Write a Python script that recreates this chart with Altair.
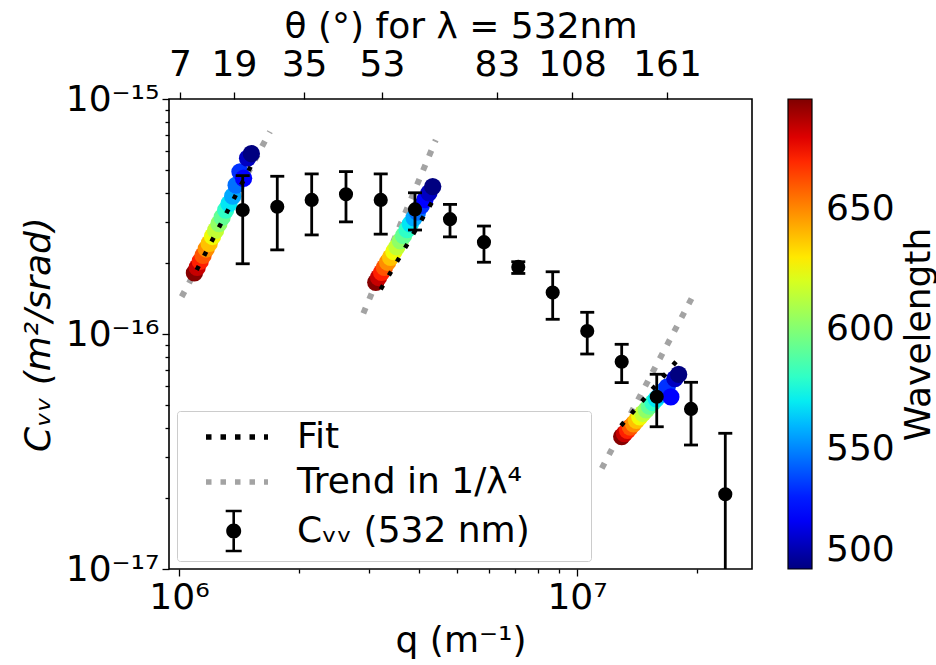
import math
import altair as alt
import pandas as pd

# ---------------- data ----------------
# black points (lambda = 532 nm) with error bars
q_532 = [1.446e6, 1.766e6, 2.155e6, 2.628e6, 3.213e6, 3.917e6, 4.797e6, 5.838e6,
         7.120e6, 8.688e6, 1.061e7, 1.295e7, 1.586e7, 1.934e7, 2.358e7]
c_532 = [3.37e-16, 3.48e-16, 3.72e-16, 3.93e-16, 3.72e-16, 3.39e-16, 3.08e-16, 2.46e-16,
         1.93e-16, 1.50e-16, 1.03e-16, 7.62e-17, 5.41e-17, 4.80e-17, 2.08e-17]
c_532_high = [4.72e-16, 4.69e-16, 4.80e-16, 4.91e-16, 4.80e-16, 3.99e-16, 3.56e-16, 2.88e-16,
              2.03e-16, 1.84e-16, 1.237e-16, 9.04e-17, 6.74e-17, 6.23e-17, 3.78e-17]
c_532_low = [1.99e-16, 2.28e-16, 2.64e-16, 3.00e-16, 2.66e-16, 2.77e-16, 2.59e-16, 2.02e-16,
             1.81e-16, 1.155e-16, 8.22e-17, 6.21e-17, 4.03e-17, 3.37e-17, 3.8e-18]

# wavelength sweeps (three angles)
wavelengths = [695, 684, 672, 661, 649, 638, 626, 615, 603, 592, 580, 569, 557, 546, 534, 523, 511, 500]
q_set1 = [1.0935e6, 1.1111e6, 1.1310e6, 1.1498e6, 1.1710e6, 1.1912e6, 1.2141e6, 1.2358e6, 1.2604e6,
          1.2838e6, 1.3103e6, 1.3357e6, 1.3645e6, 1.3919e6, 1.4232e6, 1.4532e6, 1.4873e6, 1.5200e6]
c_set1 = [1.82e-16, 1.92e-16, 2.04e-16, 2.16e-16, 2.30e-16, 2.43e-16, 2.60e-16, 2.76e-16, 2.95e-16,
          3.14e-16, 3.37e-16, 3.59e-16, 3.86e-16, 4.30e-16, 4.90e-16, 4.60e-16, 5.60e-16, 5.85e-16]
q_set2 = [3.1223e6, 3.1725e6, 3.2292e6, 3.2829e6, 3.3436e6, 3.4013e6, 3.4665e6, 3.5285e6, 3.5987e6,
          3.6655e6, 3.7414e6, 3.8137e6, 3.8959e6, 3.9744e6, 4.0637e6, 4.1491e6, 4.2466e6, 4.3400e6]
c_set2 = [1.66e-16, 1.74e-16, 1.83e-16, 1.92e-16, 2.02e-16, 2.12e-16, 2.24e-16, 2.35e-16, 2.49e-16,
          2.62e-16, 2.78e-16, 2.94e-16, 3.12e-16, 3.30e-16, 3.52e-16, 3.73e-16, 3.99e-16, 4.24e-16]
q_set3 = [1.2950e7, 1.3158e7, 1.3393e7, 1.3616e7, 1.3867e7, 1.4107e7, 1.4377e7, 1.4634e7, 1.4925e7,
          1.5203e7, 1.5517e7, 1.5817e7, 1.6158e7, 1.6484e7, 1.6854e7, 1.7208e7, 1.7613e7, 1.8000e7]
c_set3 = [3.66e-17, 3.77e-17, 3.89e-17, 4.02e-17, 4.15e-17, 4.29e-17, 4.44e-17, 4.59e-17, 4.76e-17,
          4.93e-17, 5.11e-17, 5.30e-17, 5.51e-17, 5.72e-17, 5.96e-17, 5.40e-17, 6.46e-17, 6.73e-17]

# fit lines (black dotted) and 1/lambda^4 trends (grey dotted): endpoints per set
fit_set = [1, 1, 2, 2, 3, 3]
fit_q = [1.108e6, 1.537e6, 3.213e6, 4.355e6, 1.290e7, 1.773e7]
fit_c = [1.873e-16, 5.41e-16, 1.55e-16, 3.72e-16, 4.07e-17, 7.62e-17]
trend_set = [1, 1, 2, 2, 3, 3]
trend_q = [1.0157e6, 1.693e6, 2.905e6, 4.416e6, 1.154e7, 1.942e7]
trend_c = [1.44e-16, 7.26e-16, 1.224e-16, 6.69e-16, 2.68e-17, 1.42e-16]

# axes
x_major = [1e6, 1e7]
x_minor = [2e6, 3e6, 4e6, 5e6, 6e6, 7e6, 8e6, 9e6, 2e7]
y_major = [1e-17, 1e-16, 1e-15]
y_minor = [2e-17, 3e-17, 4e-17, 5e-17, 6e-17, 7e-17, 8e-17, 9e-17,
           2e-16, 3e-16, 4e-16, 5e-16, 6e-16, 7e-16, 8e-16, 9e-16]
theta_q = [1.006e6, 1.375e6, 2.062e6, 3.236e6, 6.295e6, 9.716e6, 1.683e7]
theta_labels = ["7", "19", "35", "53", "83", "108", "161"]
colorbar_ticks = [500, 550, 600, 650]
legend_labels = ["Fit", "Trend in 1/λ⁴", "Cᵥᵥ (532 nm)"]

# ---------------- styling helpers ----------------
jet_t = [0.0, 0.11, 0.125, 0.34, 0.35, 0.375, 0.64, 0.65, 0.66, 0.89, 0.91, 1.0]
jet_colors = ["#000080", "#0000ff", "#0000ff", "#00dbff", "#00e5f7", "#14ffe2",
              "#eeff08", "#f7f500", "#ffec00", "#ff1300", "#e80000", "#800000"]
wl_min, wl_max = 500, 696
jet_domain = [wl_min + t * (wl_max - wl_min) for t in jet_t]

U = 15.0  # px per unit of a custom legend symbol with symbolSize 900


def rect(x0, y0, x1, y1):
    return (f"M{x0/U:.3f},{y0/U:.3f}L{x1/U:.3f},{y0/U:.3f}"
            f"L{x1/U:.3f},{y1/U:.3f}L{x0/U:.3f},{y1/U:.3f}Z")


def dotted(start, end, on, period, h):
    parts = []
    x = start
    while x < end:
        parts.append(rect(x, -h / 2, min(x + on, end), h / 2))
        x += period
    return "".join(parts)


def errbar_symbol(cx, r, half, capw, lw):
    circ = (f"M{(cx + r)/U:.3f},0A{r/U:.3f},{r/U:.3f} 0 1,1 {(cx - r)/U:.3f},0"
            f"A{r/U:.3f},{r/U:.3f} 0 1,1 {(cx + r)/U:.3f},0Z")
    return (circ + rect(cx - lw / 2, -half, cx + lw / 2, half)
            + rect(cx - capw / 2, -half - lw / 2, cx + capw / 2, -half + lw / 2)
            + rect(cx - capw / 2, half - lw / 2, cx + capw / 2, half + lw / 2))


legend_paths = [dotted(3, 65, 5.5, 14.5, 5.5), dotted(3, 65, 5.5, 14.5, 5.5),
                errbar_symbol(30.7, 7.5, 20, 16, 2.6)]
legend_colors = ["black", "#a3a3a3", "black"]


def label_expr(vals, labels):
    expr = f"'{labels[-1]}'"
    for i in range(len(vals) - 2, -1, -1):
        mid = math.sqrt(vals[i] * vals[i + 1])
        expr = f"datum.value < {mid:.6g} ? '{labels[i]}' : ({expr})"
    return expr


# ---------------- tables ----------------
df_pts = pd.DataFrame({"q": q_532, "c": c_532, "lo": c_532_low, "hi": c_532_high})
df_col = pd.concat([
    pd.DataFrame({"q": q_set1, "c": c_set1, "wl": wavelengths, "set": 1}),
    pd.DataFrame({"q": q_set2, "c": c_set2, "wl": wavelengths, "set": 2}),
    pd.DataFrame({"q": q_set3, "c": c_set3, "wl": wavelengths, "set": 3}),
], ignore_index=True)
df_col["order"] = range(len(df_col))
df_fit = pd.DataFrame({"q": fit_q, "c": fit_c, "set": fit_set})
df_trend = pd.DataFrame({"q": trend_q, "c": trend_c, "set": trend_set})
df_leg = pd.DataFrame({"series": legend_labels})

xs = alt.Scale(type="log", domain=[9.44e5, 2.752e7], nice=False)
ys = alt.Scale(type="log", domain=[1e-17, 1e-15], nice=False)
FS = 36

ax_x_major = alt.Axis(orient="bottom", values=x_major,
                      labelExpr="datum.value < 3e6 ? '10⁶' : '10⁷'",
                      tickSize=7, labelPadding=21, labelBaseline="middle",
                      labelFlush=False, labelOverlap=False,
                      title="q (m⁻¹)", titleY=71, titleBaseline="middle")
ax_x_minor = alt.Axis(orient="bottom", values=x_minor, labels=False, tickSize=4, title=None)
ax_x_top = alt.Axis(orient="top", values=theta_q, labelExpr=label_expr(theta_q, theta_labels),
                    tickSize=7, labelPadding=28, labelBaseline="middle",
                    labelFlush=False, labelOverlap=False,
                    title="θ (°) for λ = 532nm", titleY=-73, titleBaseline="middle")
ax_y_major = alt.Axis(orient="left", values=y_major,
                      labelExpr="datum.value < 3e-17 ? '10⁻¹⁷' : (datum.value < 3e-16 ? '10⁻¹⁶' : '10⁻¹⁵')",
                      tickSize=7, labelPadding=3, labelFlush=False, labelOverlap=False,
                      title="Cᵥᵥ (m²/srad)", titleX=-131, titleY=235, titleAngle=270,
                      titleAlign="center", titleBaseline="middle", titleFontStyle="italic")
ax_y_minor = alt.Axis(orient="left", values=y_minor, labels=False, tickSize=4, title=None)
ax_y_right = alt.Axis(orient="right", title="Wavelength", ticks=False, labels=False,
                      titleX=166, titleY=235, titleAngle=270, titleAlign="center",
                      titleBaseline="middle")

trend = alt.Chart(df_trend).mark_line(
    color="#a3a3a3", strokeWidth=6, strokeDash=[6, 9.5], strokeCap="butt", clip=True
).encode(x=alt.X("q:Q", scale=xs, axis=None), y=alt.Y("c:Q", scale=ys, axis=None),
         detail="set:N")

colored = alt.Chart(df_col).mark_circle(size=300, opacity=1, clip=True).encode(
    x=alt.X("q:Q", scale=xs, axis=None),
    y=alt.Y("c:Q", scale=ys, axis=None),
    order=alt.Order("order:Q"),
    color=alt.Color("wl:Q",
                    scale=alt.Scale(domain=jet_domain, range=jet_colors, interpolate="rgb"),
                    legend=alt.Legend(orient="none", legendX=619, legendY=0, title=None,
                                      direction="vertical", gradientLength=470,
                                      gradientThickness=24, values=colorbar_ticks,
                                      labelFontSize=FS, labelOffset=14, padding=0,
                                      labelBaseline="middle",
                                      gradientStrokeColor="black", gradientStrokeWidth=1.2,
                                      labelColor="black")),
)

fit = alt.Chart(df_fit).mark_line(
    color="black", strokeWidth=4.5, strokeDash=[4.5, 11.5], strokeCap="butt", clip=True
).encode(x=alt.X("q:Q", scale=xs, axis=None), y=alt.Y("c:Q", scale=ys, axis=None),
         detail="set:N")

rules = alt.Chart(df_pts).mark_rule(color="black", strokeWidth=2.8, clip=True).encode(
    x=alt.X("q:Q", scale=xs, axis=ax_x_major),
    y=alt.Y("lo:Q", scale=ys, axis=ax_y_major),
    y2="hi:Q",
)

caps = alt.Chart(df_pts).transform_fold(["lo", "hi"], as_=["k", "v"]).mark_tick(
    orient="horizontal", size=14, thickness=2.8, color="black", opacity=1, clip=True
).encode(
    x=alt.X("q:Q", scale=xs, axis=ax_x_minor),
    y=alt.Y("v:Q", scale=ys, axis=ax_y_minor),
)

pts = alt.Chart(df_pts).mark_circle(size=200, color="black", opacity=1, clip=True).encode(
    x=alt.X("q:Q", scale=xs, axis=ax_x_top),
    y=alt.Y("c:Q", scale=ys, axis=ax_y_right),
)

leg = alt.Legend(orient="bottom-left", offset=8, title=None, padding=8,
                 strokeColor="#cccccc", fillColor="white", cornerRadius=3,
                 symbolSize=900, symbolStrokeWidth=0, symbolOffset=0,
                 labelOffset=76, labelFontSize=FS, labelLimit=600, rowPadding=9,
                 labelColor="black", labelExpr="datum.label + '\u2800\u2800'")
carrier = alt.Chart(df_leg).mark_point(filled=True, opacity=1, clip=True).encode(
    x=alt.value(-500), y=alt.value(-500),
    shape=alt.Shape("series:N", scale=alt.Scale(domain=legend_labels, range=legend_paths), legend=leg),
    color=alt.Color("series:N", scale=alt.Scale(domain=legend_labels, range=legend_colors), legend=leg),
)

chart = alt.layer(trend, colored, fit, rules, caps, pts, carrier).resolve_scale(
    color="independent", shape="independent"
).resolve_axis(x="independent", y="independent").properties(
    width=583, height=470, autosize=alt.AutoSizeParams(type="none"),
    padding={"left": 169, "top": 99, "right": 184, "bottom": 96},
).configure(font="DejaVu Sans", background="white").configure_axis(
    labelColor="black", tickColor="black", titleColor="black", labelFontSize=FS,
    titleFontSize=FS, titleFontWeight="normal", tickWidth=1.3, domain=False, grid=False,
).configure_legend(labelColor="black", labelFontSize=FS).configure_view(
    stroke="black", strokeWidth=1.6
)

chart.save("out.html", embed_options={"renderer": "svg", "actions": False})
